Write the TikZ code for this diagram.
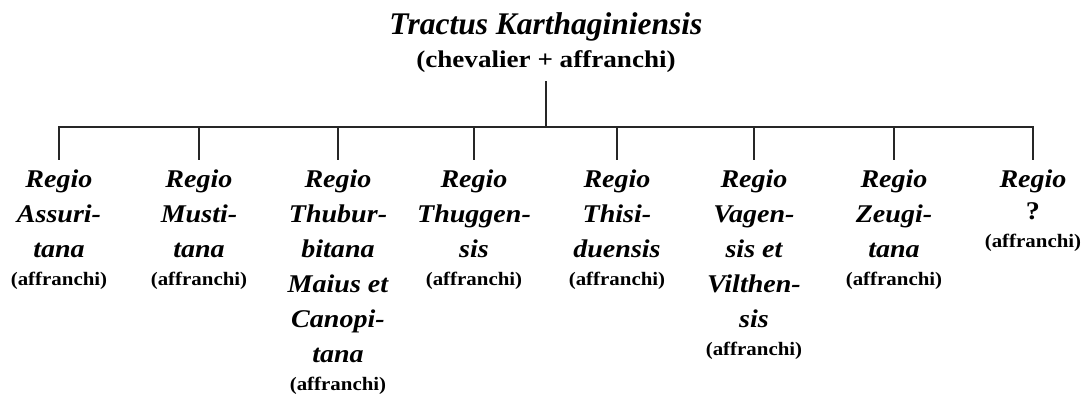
\documentclass[tikz,border=0pt]{standalone}
\usepackage{fontspec}
\setmainfont{Liberation Serif}
\newfontfamily\wideserif[FakeStretch=1.1]{Liberation Serif}
\newfontfamily\subserif[FakeStretch=1.13]{Liberation Serif}
\tikzset{
  conn/.style={draw=black!85, line width=1.1pt},
  child/.style={anchor=north, inner xsep=0pt, inner ysep=10pt, align=center,
    font=\wideserif\fontsize{25.5}{35}\selectfont\bfseries\itshape},
}
\newcommand{\aff}{{\wideserif\fontsize{19}{22}\selectfont\bfseries\upshape (affranchi)}}
\begin{document}
\begin{tikzpicture}[x=1pt,y=1pt]
\useasboundingbox (0,0) rectangle (1088,-394);
\node[anchor=base, font=\fontsize{31.5}{36}\selectfont\bfseries\itshape] (title) at (546,-34) {Tractus Karthaginiensis};
\node[anchor=base, inner ysep=9pt, font=\subserif\fontsize{24}{28}\selectfont\bfseries] (sub) at (546,-67) {(chevalier + affranchi)};
\coordinate (bar) at (0,-127);
\node[child] (c1) at (59,-160) {Regio\\Assuri-\\tana\\[-7pt]\aff};
\node[child] (c2) at (199,-160) {Regio\\Musti-\\tana\\[-7pt]\aff};
\node[child] (c3) at (338,-160) {Regio\\Thubur-\\bitana\\Maius et\\Canopi-\\tana\\[-7pt]\aff};
\node[child] (c4) at (474,-160) {Regio\\Thuggen-\\sis\\[-7pt]\aff};
\node[child] (c5) at (617,-160) {Regio\\Thisi-\\duensis\\[-7pt]\aff};
\node[child] (c6) at (754,-160) {Regio\\Vagen-\\sis et\\Vilthen-\\sis\\[-7pt]\aff};
\node[child] (c7) at (894,-160) {Regio\\Zeugi-\\tana\\[-7pt]\aff};
\node[child] (c8) at (1033,-160) {Regio\\[-3pt]{\upshape ?}\\[-7pt]\aff};
\draw[conn] (sub.south) -- (sub.south |- bar);
\foreach \i in {1,...,8} \draw[conn] (sub.south |- bar) -| (c\i.north);
\end{tikzpicture}
\end{document}
